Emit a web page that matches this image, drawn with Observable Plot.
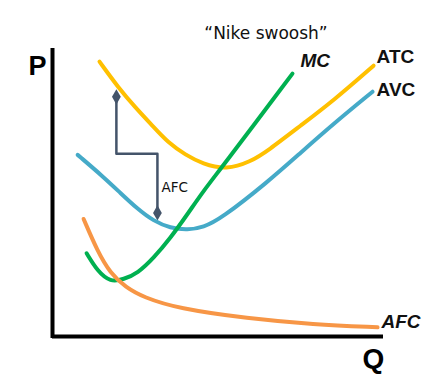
<!DOCTYPE html>
<html><head><meta charset="utf-8">
<script src="https://cdn.jsdelivr.net/npm/d3@7"></script>
<script src="https://cdn.jsdelivr.net/npm/@observablehq/plot@0.6"></script>
<style>body{margin:0;background:#fff;}</style>
</head><body><div id="chart"></div>
<script>
// Curves (Q, P) in arbitrary units (0..10)
const atcQ = [1.42, 1.99, 2.51, 3.02, 3.50, 4.02, 4.53, 5.26, 5.98, 6.50, 7.49, 8.49, 9.70];
const atcP = [9.61, 8.70, 8.00, 7.37, 6.77, 6.35, 6.04, 5.83, 6.11, 6.49, 7.37, 8.25, 9.47];
const avcQ = [0.76, 1.54, 2.05, 2.57, 3.05, 3.56, 4.08, 4.56, 5.08, 6.50, 7.49, 8.49, 9.67];
const avcP = [6.35, 5.58, 5.02, 4.46, 4.04, 3.79, 3.72, 3.82, 4.11, 5.40, 6.42, 7.44, 8.56];
const mcQ = [1.03, 1.36, 1.75, 2.15, 2.57, 3.05, 3.56, 4.08, 4.56, 5.08, 7.25];
const mcP = [2.91, 2.28, 1.90, 2.00, 2.21, 2.74, 3.44, 4.28, 5.09, 5.86, 9.19];
const afcQ = [0.94, 1.36, 1.75, 2.21, 2.75, 3.78, 5.89, 7.88, 9.82];
const afcP = [4.11, 2.98, 2.21, 1.72, 1.37, 0.98, 0.63, 0.42, 0.32];
// AFC bracket annotation (gap between ATC and AVC)
const bracketQ = [1.93, 1.93, 3.17, 3.17];
const bracketP = [8.38, 6.39, 6.39, 4.32];
const title = "\u201CNike swoosh\u201D";

const toPts = (qs, ps) => qs.map((q, i) => ({Q: q, P: ps[i]}));
const atc = toPts(atcQ, atcP), avc = toPts(avcQ, avcP), mc = toPts(mcQ, mcP), afc = toPts(afcQ, afcP);
const bracket = toPts(bracketQ, bracketP);
const ends = [bracket[0], bracket[bracket.length - 1]];

const colors = {ATC: "#FFC000", AVC: "#45AAC8", MC: "#00B050", AFC: "#F79646", note: "#44546A"};
const lab = {fontFamily: "Liberation Sans, Arial, sans-serif", fontWeight: "bold", fontSize: 19, fill: "#111", textAnchor: "start"};
const curve = "basis";

const chart = Plot.plot({
  width: 439, height: 389,
  marginLeft: 52, marginRight: 56, marginTop: 50, marginBottom: 53,
  x: {domain: [0, 10], axis: null},
  y: {domain: [0, 10], axis: null},
  marks: [
    Plot.ruleX([0], {y1: 0, y2: 10, stroke: "#000", strokeWidth: 4, strokeLinecap: "square"}),
    Plot.ruleY([0], {x1: 0, x2: 10, stroke: "#000", strokeWidth: 4}),
    Plot.line(bracket, {x: "Q", y: "P", stroke: colors.note, strokeWidth: 2.5, curve: "linear"}),
    Plot.dot(ends, {x: "Q", y: "P", symbol: "diamond", r: 4.6, fill: colors.note, stroke: "none"}),
    Plot.text([ends[1]], {x: "Q", y: "P", text: () => "AFC", dx: 4, dy: -25, textAnchor: "start", fontFamily: "DejaVu Sans, sans-serif", fontSize: 13.5, fill: "#111"}),
    Plot.line(avc, {x: "Q", y: "P", stroke: colors.AVC, strokeWidth: 4, curve}),
    Plot.line(atc, {x: "Q", y: "P", stroke: colors.ATC, strokeWidth: 4, curve}),
    Plot.line(mc, {x: "Q", y: "P", stroke: colors.MC, strokeWidth: 4, curve}),
    Plot.line(afc, {x: "Q", y: "P", stroke: colors.AFC, strokeWidth: 4, curve}),
    Plot.text([mc[mc.length - 1]], {x: "Q", y: "P", text: () => "MC", dx: 8, dy: -13, fontStyle: "italic", ...lab}),
    Plot.text([atc[atc.length - 1]], {x: "Q", y: "P", text: () => "ATC", dx: 3, dy: -9, ...lab}),
    Plot.text([avc[avc.length - 1]], {x: "Q", y: "P", text: () => "AVC", dx: 4, dy: -2, ...lab}),
    Plot.text([afc[afc.length - 1]], {x: "Q", y: "P", text: () => "AFC", dx: 4, dy: -5, fontStyle: "italic", ...lab}),
    Plot.text(["P"], {frameAnchor: "top-left", text: d => d, dx: -15, dy: 16, textAnchor: "middle", lineAnchor: "middle", fontFamily: "Liberation Sans, Arial, sans-serif", fontWeight: "bold", fontSize: 27, fill: "#000"}),
    Plot.text(["Q"], {frameAnchor: "bottom-right", text: d => d, dx: -10, dy: 23, textAnchor: "middle", lineAnchor: "middle", fontFamily: "Liberation Sans, Arial, sans-serif", fontWeight: "bold", fontSize: 28, fill: "#000"}),
    Plot.text([title], {frameAnchor: "top", text: d => d, dx: 48, dy: -17, textAnchor: "middle", lineAnchor: "middle", fontFamily: "DejaVu Sans, sans-serif", fontSize: 17, fill: "#111"})
  ]
});
document.getElementById("chart").appendChild(chart);
</script>
</body></html>
